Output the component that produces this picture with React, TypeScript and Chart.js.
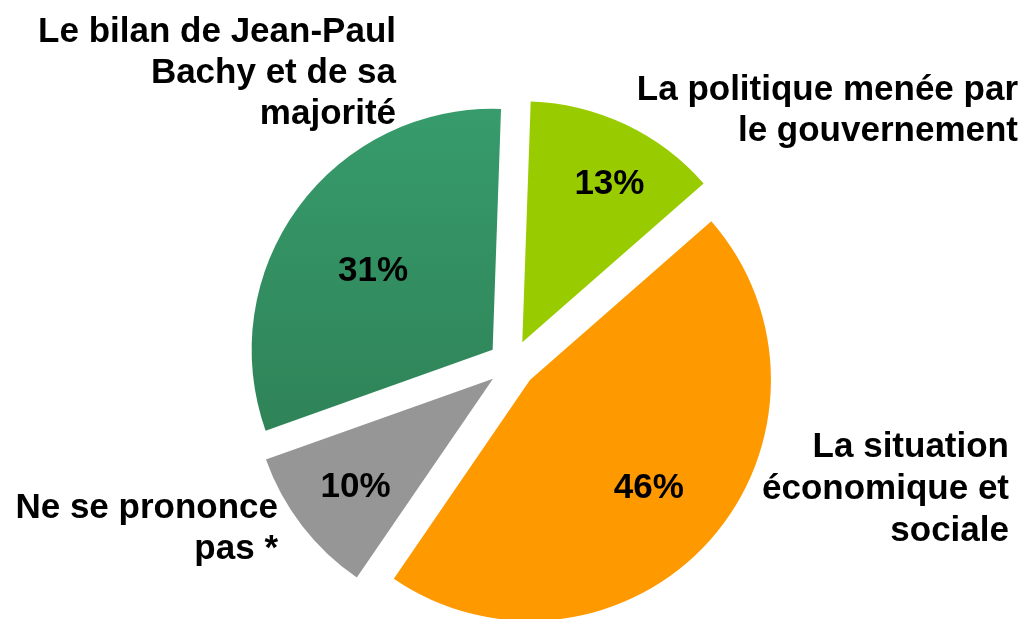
import React, { useEffect, useRef } from "react";
import { Chart, registerables } from "chart.js";

Chart.register(...registerables);

// ---- Data ----
const categories = [
  "La politique menée par le gouvernement",
  "La situation économique et sociale",
  "Ne se prononce pas *",
  "Le bilan de Jean-Paul Bachy et de sa majorité",
];
const shares = [13, 46, 10, 31];
const categoryLines = [
  ["La politique menée par", "le gouvernement"],
  ["La situation", "économique et", "sociale"],
  ["Ne se prononce", "pas *"],
  ["Le bilan de Jean-Paul", "Bachy et de sa", "majorité"],
];

// ---- Styles / layout ----
const sliceColors = ["#99CC00", "#FF9900", "#969696", "#33935F"];
const gradientTop = "#379C6C";
const gradientBottom = "#2E8256";
const FONT = '"Liberation Sans", Arial, Helvetica, sans-serif';
const FONT_SIZE = 35;
const PIE_RADIUS = 241;
const EXPLODE = 24;
const ROTATION = 2;
const innerLabelFraction = [0.76, 0.66, 0.72, 0.6];
const innerLabelAngleShift = [3, 0, 0, -2]; // degrees
const INNER_LABEL_DY = 3;
const outerLabelLayout = [
  { right: 1018, baseline: 100, lineHeight: 41 },
  { right: 1009, baseline: 457, lineHeight: 42 },
  { right: 278, baseline: 518, lineHeight: 41 },
  { right: 396, baseline: 42, lineHeight: 41 },
];

const explodePlugin = {
  id: "explodeSlices",
  afterDatasetsUpdate(chart: any) {
    const meta = chart.getDatasetMeta(0);
    meta.data.forEach((arc: any) => {
      const mid = (arc.startAngle + arc.endAngle) / 2;
      arc.x += Math.cos(mid) * EXPLODE;
      arc.y += Math.sin(mid) * EXPLODE;
    });
  },
};

const labelPlugin = {
  id: "sliceLabels",
  afterDatasetsDraw(chart: any) {
    const ctx = chart.ctx;
    const meta = chart.getDatasetMeta(0);
    ctx.save();
    ctx.fillStyle = "#000000";
    ctx.font = `bold ${FONT_SIZE}px ${FONT}`;
    meta.data.forEach((arc: any, i: number) => {
      const mid = (arc.startAngle + arc.endAngle) / 2 + (innerLabelAngleShift[i] * Math.PI) / 180;
      const r = arc.outerRadius * innerLabelFraction[i];
      ctx.textAlign = "center";
      ctx.textBaseline = "middle";
      ctx.fillText(`${shares[i]}%`, arc.x + Math.cos(mid) * r, arc.y + Math.sin(mid) * r + INNER_LABEL_DY);
      const lay = outerLabelLayout[i];
      ctx.textAlign = "right";
      ctx.textBaseline = "alphabetic";
      categoryLines[i].forEach((line, j) => {
        ctx.fillText(line, lay.right, lay.baseline + j * lay.lineHeight);
      });
    });
    ctx.restore();
  },
};

export default function App() {
  const canvasRef = useRef<HTMLCanvasElement | null>(null);

  useEffect(() => {
    if (!canvasRef.current) return;
    const chart = new Chart(canvasRef.current, {
      type: "pie",
      data: {
        labels: categories,
        datasets: [
          {
            data: shares,
            borderWidth: 0,
            radius: PIE_RADIUS,
            backgroundColor: (c: any) => {
              const i = c.dataIndex;
              if (i !== 3) return sliceColors[i];
              const area = c.chart.chartArea;
              if (!area) return sliceColors[i];
              const cy = (area.top + area.bottom) / 2;
              const g = c.chart.ctx.createLinearGradient(0, cy - PIE_RADIUS - EXPLODE, 0, cy + 80);
              g.addColorStop(0, gradientTop);
              g.addColorStop(1, gradientBottom);
              return g;
            },
          } as any,
        ],
      },
      options: {
        responsive: false,
        animation: false,
        devicePixelRatio: 1,
        rotation: ROTATION,
        layout: { padding: { left: 0, right: 7, top: 109, bottom: 0 } },
        plugins: {
          legend: { display: false },
          tooltip: { enabled: false },
        },
      } as any,
      plugins: [explodePlugin, labelPlugin],
    });
    return () => chart.destroy();
  }, []);

  return (
    <div style={{ position: "absolute", left: 0, top: 0, width: 1031, height: 619, background: "#ffffff" }}>
      <canvas ref={canvasRef} width={1031} height={619} />
    </div>
  );
}
